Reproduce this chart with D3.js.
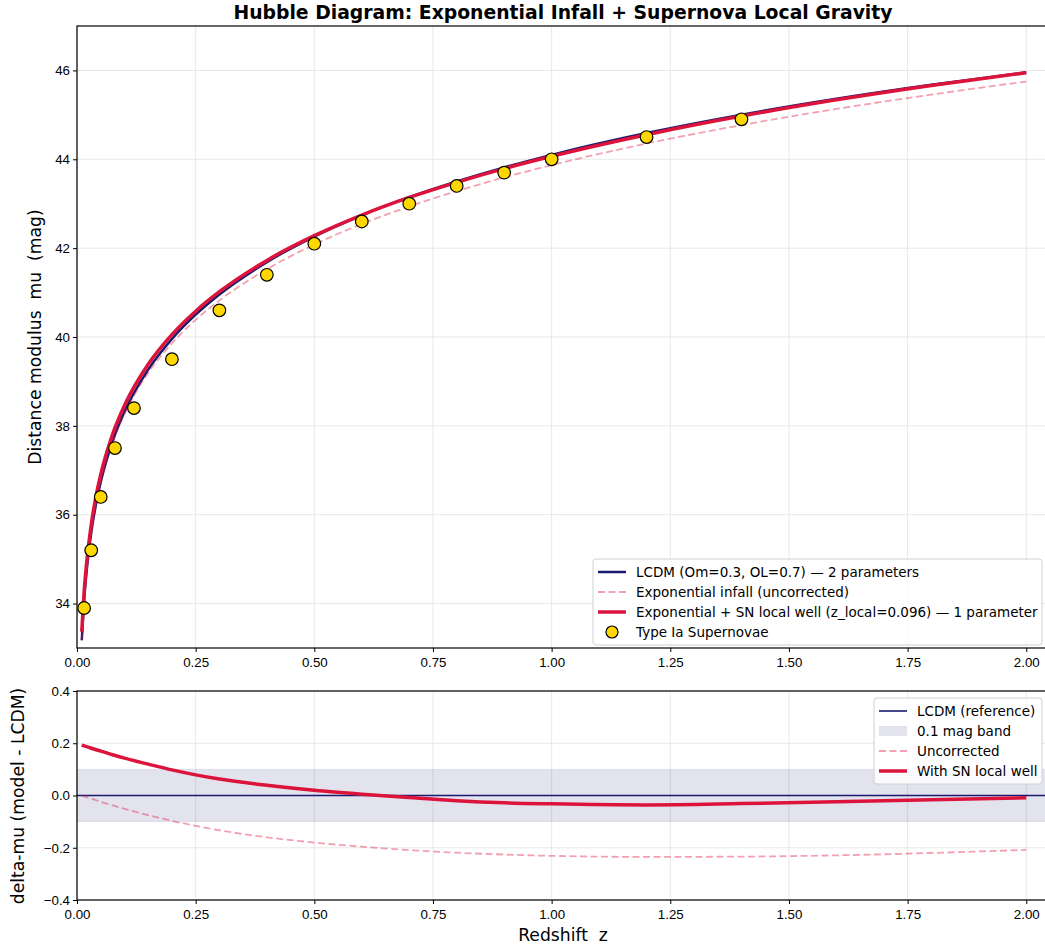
<!DOCTYPE html>
<html>
<head>
<meta charset="utf-8">
<script src="https://cdn.jsdelivr.net/npm/d3@7"></script>
<style>
  body { margin: 0; background: #fff; }
  svg { display: block; font-family: "DejaVu Sans", sans-serif; }
  svg text { white-space: pre; }
</style>
</head>
<body>
<div id="chart"></div>
<script>
// model curves, sampled in redshift
const zGrid = [0.01, 0.015, 0.02, 0.03, 0.04, 0.05, 0.075, 0.1, 0.15, 0.2, 0.25, 0.3,
  0.4, 0.5, 0.6, 0.7, 0.8, 0.9, 1.0, 1.2, 1.4, 1.6, 1.8, 2.0];
const muLcdm = [33.175, 34.064, 34.697, 35.594, 36.234, 36.735, 37.653, 38.315, 39.266,
  39.956, 40.502, 40.956, 41.685, 42.261, 42.739, 43.147, 43.502, 43.818, 44.1, 44.59,
  45.004, 45.362, 45.677, 45.957];
const muExp = [33.175, 34.061, 34.691, 35.582, 36.216, 36.711, 37.615, 38.264, 39.191,
  39.859, 40.386, 40.823, 41.525, 42.081, 42.543, 42.938, 43.283, 43.592, 43.869, 44.355,
  44.77, 45.133, 45.457, 45.749];
const muExpSN = [33.368, 34.254, 34.884, 35.775, 36.409, 36.905, 37.809, 38.458, 39.386,
  40.054, 40.581, 41.019, 41.724, 42.281, 42.745, 43.141, 43.482, 43.79, 44.068, 44.554,
  44.973, 45.338, 45.661, 45.948];

// residuals vs LCDM
const dmuExp = [0, -0.003, -0.006, -0.012, -0.018, -0.024, -0.038, -0.051, -0.075, -0.097,
  -0.116, -0.133, -0.16, -0.18, -0.196, -0.209, -0.219, -0.226, -0.231, -0.235, -0.234,
  -0.229, -0.22, -0.208];
const dmuExpSN = [0.193, 0.19, 0.187, 0.181, 0.175, 0.17, 0.156, 0.143, 0.12, 0.098, 0.079,
  0.063, 0.039, 0.02, 0.005, -0.008, -0.02, -0.028, -0.032, -0.036, -0.031, -0.024,
  -0.016, -0.009];
const dmuLcdm = [0, 0];
const dmuLcdmZ = [0, 2.05];

// supernovae
const snZ = [0.015, 0.03, 0.05, 0.08, 0.12, 0.2, 0.3, 0.4, 0.5, 0.6, 0.7, 0.8, 0.9, 1.0, 1.2, 1.4];
const snMu = [33.9, 35.2, 36.4, 37.5, 38.4, 39.5, 40.6, 41.4, 42.1, 42.6, 43.0, 43.4, 43.7, 44.0, 44.5, 44.9];

const xTicks = [0, 0.25, 0.5, 0.75, 1.0, 1.25, 1.5, 1.75, 2.0];
const yTicksTop = [34, 36, 38, 40, 42, 44, 46];
const yTicksBot = [-0.4, -0.2, 0, 0.2, 0.4];

const width = 1045;
const height = 949;
const navy = "#191970";
const crimson = "#dc143c";
const gridColor = "#e8e8e8";

const svg = d3.select("#chart").append("svg")
  .attr("width", width)
  .attr("height", height);

const x = d3.scaleLinear().domain([0, 2.05]).range([77, 1050]);
const yTop = d3.scaleLinear().domain([33, 47]).range([648, 26]);
const yBot = d3.scaleLinear().domain([-0.4, 0.4]).range([900, 691]);

const drawGrid = (y, yTicks) => {
  const g = svg.append("g");
  const [y0, y1] = y.range();
  g.selectAll(".vgrid").data(xTicks).join("line")
    .attr("x1", (d) => x(d)).attr("x2", (d) => x(d))
    .attr("y1", y1).attr("y2", y0)
    .attr("stroke", gridColor).attr("stroke-width", 1);
  g.selectAll(".hgrid").data(yTicks).join("line")
    .attr("x1", 77).attr("x2", 1050)
    .attr("y1", (d) => y(d)).attr("y2", (d) => y(d))
    .attr("stroke", gridColor).attr("stroke-width", 1);
};

const drawAxes = (y, yTicks, yFmt) => {
  const [y0, y1] = y.range();
  svg.append("g")
    .attr("transform", `translate(0,${y0})`)
    .call(d3.axisBottom(x).tickValues(xTicks).tickFormat(d3.format(".2f")).tickSize(4).tickSizeOuter(0))
    .call((g) => g.select(".domain").remove())
    .call((g) => g.selectAll("text").attr("font-size", 13.3).attr("fill", "#000").attr("dy", "0.9em"))
    .call((g) => g.selectAll("line").attr("stroke", "#000"));
  svg.append("g")
    .attr("transform", "translate(77,0)")
    .call(d3.axisLeft(y).tickValues(yTicks).tickFormat(yFmt).tickSize(4).tickSizeOuter(0))
    .call((g) => g.select(".domain").remove())
    .call((g) => g.selectAll("text").attr("font-size", 13.3).attr("fill", "#000"))
    .call((g) => g.selectAll("line").attr("stroke", "#000"));
  svg.append("rect")
    .attr("x", 77).attr("y", y1)
    .attr("width", 1050 - 77).attr("height", y0 - y1)
    .attr("fill", "none").attr("stroke", "#000").attr("stroke-width", 1.2);
};

const lineOf = (xs, ys, y) =>
  d3.line().curve(d3.curveMonotoneX).x((d, i) => x(xs[i])).y((d) => y(d))(ys);

// ---------- top panel ----------
drawGrid(yTop, yTicksTop);
svg.append("clipPath").attr("id", "clipTop")
  .append("rect").attr("x", 77).attr("y", 26).attr("width", 973).attr("height", 622);
const topG = svg.append("g").attr("clip-path", "url(#clipTop)");

topG.append("path").attr("d", lineOf(zGrid, muLcdm, yTop))
  .attr("fill", "none").attr("stroke", navy).attr("stroke-width", 2.5);
topG.append("path").attr("d", lineOf(zGrid, muExp, yTop))
  .attr("fill", "none").attr("stroke", crimson).attr("stroke-opacity", 0.4)
  .attr("stroke-width", 1.8).attr("stroke-dasharray", "7,3.5");
topG.append("path").attr("d", lineOf(zGrid, muExpSN, yTop))
  .attr("fill", "none").attr("stroke", crimson).attr("stroke-width", 3.5);
topG.selectAll(".sn").data(snZ).join("circle")
  .attr("cx", (d) => x(d))
  .attr("cy", (d, i) => yTop(snMu[i]))
  .attr("r", 6.3)
  .attr("fill", "#ffd700").attr("stroke", "#000").attr("stroke-width", 1.2);

drawAxes(yTop, yTicksTop, d3.format("d"));

// ---------- bottom panel ----------
drawGrid(yBot, yTicksBot);
const botG = svg.append("g");
botG.append("rect")
  .attr("x", 77).attr("y", yBot(0.1))
  .attr("width", 973).attr("height", yBot(-0.1) - yBot(0.1))
  .attr("fill", navy).attr("fill-opacity", 0.12)
  .attr("stroke", navy).attr("stroke-opacity", 0.08);
botG.append("path").attr("d", lineOf(dmuLcdmZ, dmuLcdm, yBot))
  .attr("fill", "none").attr("stroke", navy).attr("stroke-width", 1.6);
botG.append("path").attr("d", lineOf(zGrid, dmuExp, yBot))
  .attr("fill", "none").attr("stroke", crimson).attr("stroke-opacity", 0.4)
  .attr("stroke-width", 1.8).attr("stroke-dasharray", "7,3.5");
botG.append("path").attr("d", lineOf(zGrid, dmuExpSN, yBot))
  .attr("fill", "none").attr("stroke", crimson).attr("stroke-width", 3.5);

drawAxes(yBot, yTicksBot, d3.format(".1f"));

// ---------- titles / labels ----------
svg.append("text")
  .attr("x", 563).attr("y", 19)
  .attr("text-anchor", "middle")
  .attr("font-size", 18.8).attr("font-weight", "bold")
  .text("Hubble Diagram: Exponential Infall + Supernova Local Gravity");

svg.append("text")
  .attr("transform", "translate(41,337) rotate(-90)")
  .attr("text-anchor", "middle")
  .attr("font-size", 17.2)
  .text("Distance modulus  mu  (mag)");

svg.append("text")
  .attr("transform", "translate(24,796) rotate(-90)")
  .attr("text-anchor", "middle")
  .attr("font-size", 17.2)
  .text("delta-mu (model - LCDM)");

svg.append("text")
  .attr("x", 563).attr("y", 941)
  .attr("text-anchor", "middle")
  .attr("font-size", 17.2)
  .text("Redshift  z");

// ---------- legends ----------
const drawLegend = (x0, y0, w, items) => {
  const g = svg.append("g").attr("transform", `translate(${x0},${y0})`);
  g.append("rect")
    .attr("width", w).attr("height", items.length * 20 + 6)
    .attr("rx", 3)
    .attr("fill", "#fff").attr("fill-opacity", 0.85)
    .attr("stroke", "#d0d0d0");
  items.forEach((it, i) => {
    const cy = 13 + i * 20;
    if (it.type === "line") {
      g.append("line")
        .attr("x1", 5).attr("x2", 33).attr("y1", cy).attr("y2", cy)
        .attr("stroke", it.color)
        .attr("stroke-opacity", it.opacity || 1)
        .attr("stroke-width", it.width)
        .attr("stroke-dasharray", it.dash || null);
    } else if (it.type === "band") {
      g.append("rect")
        .attr("x", 5).attr("y", cy - 5).attr("width", 28).attr("height", 10)
        .attr("fill", navy).attr("fill-opacity", 0.12);
    } else {
      g.append("circle").attr("cx", 19).attr("cy", cy).attr("r", 6)
        .attr("fill", "#ffd700").attr("stroke", "#000").attr("stroke-width", 1.2);
    }
    g.append("text")
      .attr("x", 43).attr("y", cy).attr("dy", "0.35em")
      .attr("font-size", 13.5)
      .text(it.label);
  });
};

drawLegend(593, 559, 449, [
  { type: "line", color: navy, width: 2.5, label: "LCDM (Om=0.3, OL=0.7) \u2014 2 parameters" },
  { type: "line", color: crimson, width: 1.8, opacity: 0.4, dash: "7,3.5", label: "Exponential infall (uncorrected)" },
  { type: "line", color: crimson, width: 3.5, label: "Exponential + SN local well (z_local=0.096) \u2014 1 parameter" },
  { type: "marker", label: "Type Ia Supernovae" },
]);

drawLegend(874, 698, 168, [
  { type: "line", color: navy, width: 1.6, label: "LCDM (reference)" },
  { type: "band", label: "0.1 mag band" },
  { type: "line", color: crimson, width: 1.8, opacity: 0.4, dash: "7,3.5", label: "Uncorrected" },
  { type: "line", color: crimson, width: 3.5, label: "With SN local well" },
]);
</script>
</body>
</html>
